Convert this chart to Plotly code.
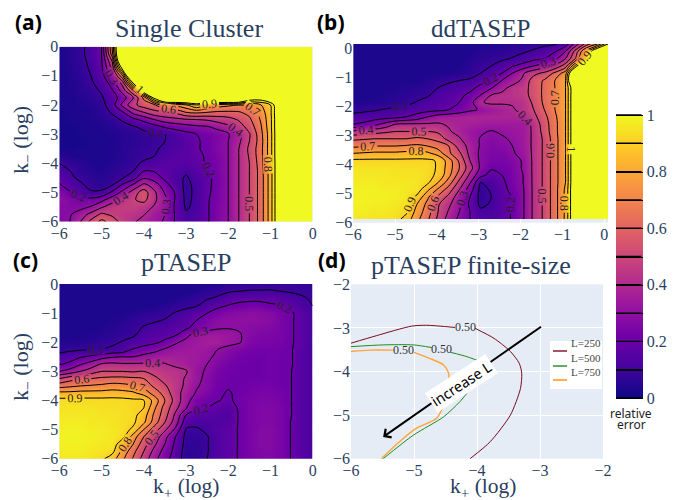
import plotly.graph_objects as go

W, H_PX = 683, 500
H = 1.5      # above the colour scale: drawn as saturated yellow
T = [1.2, H, H, H]

k_plus = [-6 + 0.25 * i for i in range(25)]
k_minus = [-0.25 * i for i in range(25)]

z_single = [
    [.03,.05,.08,.13,.2,.7] + [H]*19,
    [.03,.05,.08,.13,.2,.65] + [H]*19,
    [.03,.05,.075,.12,.19,.5,1.4] + [H]*18,
    [.03,.05,.07,.11,.18,.42,1.05] + [H]*18,
    [.03,.04,.065,.1,.16,.33,.68] + [H]*18,
    [.03,.04,.06,.09,.13,.24,.44,1.0] + [H]*17,
    [.03,.04,.05,.075,.11,.19,.34,.6,1.15] + [H]*16,
    [.03,.035,.045,.06,.09,.15,.25,.4,.62,1.05,1.4] + [H]*7 + [1.15,1.1,1.2] + [H]*4,
    [.03,.03,.04,.05,.07,.15,.33,.47,.55,.58,.72,.72,.78,.9,.8,.75,.72,.7,.72,.78,.9] + T,
    [.02,.03,.03,.04,.06,.11,.19,.33,.4,.47,.49,.52,.6,.62,.6,.58,.58,.59,.63,.73,.88] + T,
    [.02,.03,.03,.04,.05,.07,.11,.17,.23,.3,.35,.37,.39,.4,.41,.44,.46,.51,.58,.7,.87] + T,
    [.02,.02,.03,.03,.04,.05,.07,.09,.12,.16,.21,.24,.26,.28,.29,.33,.38,.45,.54,.67,.87] + T,
    [.02,.02,.03,.03,.03,.04,.05,.06,.08,.09,.1,.13,.17,.2,.23,.25,.29,.37,.49,.65,.86] + T,
    [.02,.02,.02,.03,.03,.04,.05,.06,.07,.085,.1,.12,.16,.19,.22,.26,.3,.38,.5,.64,.86] + T,
    [.03,.02,.03,.03,.03,.04,.05,.07,.08,.09,.115,.14,.16,.19,.22,.26,.3,.4,.52,.65,.86] + T,
    [.05,.04,.03,.03,.03,.04,.05,.07,.085,.1,.13,.15,.16,.18,.21,.25,.3,.4,.51,.65,.86] + T,
    [.1,.08,.06,.04,.03,.05,.06,.085,.11,.14,.16,.16,.15,.17,.21,.24,.3,.4,.5,.64,.85] + T,
    [.12,.1,.07,.05,.04,.06,.08,.095,.195,.19,.16,.14,.115,.15,.19,.24,.3,.4,.5,.63,.85] + T,
    [.17,.115,.085,.065,.05,.07,.095,.16,.29,.25,.18,.13,.09,.13,.18,.23,.3,.4,.5,.63,.85] + T,
    [.21,.16,.115,.075,.06,.1,.22,.32,.43,.36,.24,.15,.08,.12,.18,.23,.3,.4,.5,.63,.85] + T,
    [.27,.21,.15,.11,.12,.22,.33,.45,.55,.42,.29,.19,.075,.12,.18,.24,.3,.4,.5,.63,.85] + T,
    [.3,.26,.24,.23,.27,.36,.43,.49,.53,.42,.33,.19,.08,.12,.19,.24,.3,.4,.5,.63,.85] + T,
    [.28,.27,.27,.31,.39,.45,.47,.47,.44,.39,.32,.18,.09,.12,.19,.25,.3,.4,.5,.63,.85] + T,
    [.27,.29,.35,.43,.52,.48,.45,.43,.405,.35,.3,.19,.11,.13,.19,.25,.3,.4,.5,.63,.85] + T,
    [.26,.3,.4,.53,.63,.56,.46,.41,.37,.33,.29,.19,.12,.14,.19,.25,.3,.4,.5,.63,.85] + T,
]

z_dd = [
    [.03]*13 + [.04,.045,.05,.055,.07,.08,.09,.15,.35,.55,.7,1.0],
    [.03]*11 + [.04,.05,.05,.06,.075,.09,.11,.14,.19,.3,.55,.85,1.2,H],
    [.03]*11 + [.05,.06,.08,.085,.105,.13,.17,.2,.27,.4,.62,.95,H,H],
    [.03]*11 + [.06,.085,.1,.14,.19,.24,.3,.35,.42,.55,.95,H,H,H],
    [.03]*9 + [.04,.05,.07,.1,.15,.2,.3,.39,.47,.52,.62,.75,1.4,H,H,H],
    [.03]*7 + [.05,.07,.085,.1,.11,.16,.21,.3,.35,.42,.55,.61,.7,.8,H,H,H,H],
    [.03,.03,.03,.035,.04,.05,.06,.07,.1,.125,.14,.17,.23,.29,.37,.43,.46,.54,.62,.7,.8] + T,
    [.03,.03,.035,.04,.05,.06,.075,.09,.13,.15,.18,.22,.3,.4,.42,.43,.46,.54,.62,.7,.8] + T,
    [.035,.04,.045,.05,.06,.075,.105,.13,.15,.17,.2,.26,.39,.42,.41,.41,.43,.52,.62,.7,.8] + T,
    [.07,.08,.09,.105,.12,.135,.15,.16,.17,.2,.24,.28,.31,.34,.37,.39,.43,.5,.6,.7,.8] + T,
    [.13,.14,.15,.16,.17,.2,.24,.3,.35,.36,.37,.38,.38,.38,.38,.38,.39,.47,.57,.68,.8] + T,
    [.2,.22,.27,.33,.4,.41,.41,.41,.41,.39,.37,.36,.35,.34,.34,.34,.34,.43,.55,.67,.8] + T,
    [.42,.44,.46,.48,.5,.5,.5,.5,.48,.41,.37,.33,.31,.295,.31,.33,.34,.42,.54,.67,.8] + T,
    [.58,.59,.6,.6,.6,.6,.62,.6,.57,.46,.41,.34,.295,.27,.29,.31,.34,.42,.52,.66,.8] + T,
    [.68,.69,.7,.7,.7,.71,.72,.7,.65,.6,.45,.37,.29,.26,.27,.3,.34,.42,.52,.66,.8] + T,
    [.8,.81,.82,.82,.82,.83,.84,.82,.76,.62,.52,.37,.28,.25,.25,.29,.33,.42,.52,.66,.8] + T,
    [.92,.92,.92,.92,.92,.92,.92,.92,.89,.75,.58,.4,.28,.24,.24,.26,.31,.42,.52,.66,.8] + T,
    [.95,.95,.95,.95,.94,.94,.94,.93,.89,.75,.6,.44,.28,.21,.22,.25,.31,.42,.52,.66,.8] + T,
    [.96,.96,.96,.96,.95,.95,.95,.93,.88,.73,.55,.38,.23,.17,.2,.24,.3,.42,.52,.66,.8] + T,
    [.97,.97,.97,.96,.96,.96,.95,.92,.8,.65,.47,.31,.1,.13,.18,.24,.3,.42,.52,.66,.8] + T,
    [.98,.98,.98,.97,.97,.96,.95,.82,.68,.55,.4,.25,.07,.11,.17,.225,.29,.42,.52,.66,.82] + T,
    [.98,.98,.98,.98,.97,.96,.88,.72,.58,.47,.34,.2,.07,.1,.16,.205,.29,.42,.52,.66,.82] + T,
    [.98,.98,.97,.97,.96,.94,.8,.67,.51,.42,.32,.18,.08,.11,.16,.21,.29,.42,.52,.66,.82] + T,
    [.97,.97,.96,.96,.95,.92,.76,.65,.5,.39,.3,.2,.12,.12,.16,.21,.29,.42,.52,.66,.82] + T,
    [.96,.96,.95,.95,.94,.86,.73,.62,.48,.36,.28,.2,.14,.13,.16,.21,.29,.42,.52,.66,.82] + T,
]

z_p = [
    [.03]*10 + [.04]*6 + [.06,.065,.07,.075,.08,.08,.08,.075,.07],
    [.03]*13 + [.04,.06,.08,.09,.1,.105,.105,.105,.1,.09,.085,.08],
    [.03]*11 + [.04,.06,.08,.095,.11,.16,.175,.18,.18,.18,.16,.14,.11,.09],
    [.03]*9 + [.04,.05,.07,.08,.095,.14,.18,.205,.22,.23,.23,.21,.205,.175,.13,.1],
    [.03]*6 + [.035,.045,.06,.07,.08,.105,.13,.165,.2,.24,.27,.28,.29,.28,.27,.24,.21,.16,.12],
    [.03]*5 + [.04,.05,.07,.085,.09,.105,.13,.16,.2,.25,.28,.29,.295,.295,.29,.28,.24,.21,.16,.12],
    [.03,.03,.03,.03,.04,.05,.06,.08,.105,.125,.14,.16,.18,.24,.27,.29,.295,.29,.28,.27,.26,.24,.21,.16,.12],
    [.03,.03,.035,.04,.05,.06,.08,.09,.13,.15,.165,.19,.28,.33,.34,.34,.33,.31,.27,.25,.25,.24,.21,.16,.12],
    [.04,.045,.05,.06,.07,.085,.105,.13,.16,.18,.22,.29,.32,.34,.36,.36,.33,.31,.26,.24,.24,.23,.21,.16,.12],
    [.07,.08,.09,.095,.1,.115,.13,.21,.24,.27,.31,.33,.34,.34,.33,.3,.27,.25,.23,.22,.22,.22,.205,.15,.12],
    [.13,.16,.19,.22,.26,.29,.3,.3,.33,.35,.36,.36,.35,.34,.32,.28,.25,.23,.21,.21,.22,.21,.205,.15,.12],
    [.19,.22,.29,.34,.41,.42,.41,.41,.41,.41,.405,.38,.36,.33,.3,.26,.23,.21,.21,.21,.22,.21,.205,.15,.12],
    [.3,.34,.4,.45,.5,.5,.5,.49,.5,.47,.44,.43,.41,.32,.29,.24,.215,.21,.21,.21,.22,.21,.2,.15,.12],
    [.5,.56,.59,.6,.62,.63,.63,.62,.6,.52,.47,.44,.39,.33,.27,.23,.21,.205,.21,.21,.22,.21,.2,.15,.12],
    [.66,.68,.7,.71,.72,.74,.73,.71,.67,.58,.51,.45,.38,.31,.27,.22,.205,.21,.22,.23,.23,.21,.2,.15,.12],
    [.83,.83,.84,.84,.84,.85,.84,.82,.76,.66,.56,.44,.36,.29,.25,.21,.195,.21,.23,.24,.24,.23,.2,.15,.12],
    [.93,.93,.93,.93,.93,.93,.93,.92,.905,.76,.6,.46,.34,.24,.22,.205,.185,.22,.24,.25,.25,.23,.2,.15,.12],
    [.95,.95,.95,.95,.94,.94,.94,.92,.9,.72,.56,.43,.31,.22,.2,.17,.15,.21,.24,.26,.26,.24,.2,.15,.12],
    [.96,.96,.96,.96,.95,.95,.94,.93,.85,.68,.54,.38,.2,.16,.155,.15,.14,.205,.24,.26,.26,.24,.2,.15,.12],
    [.97,.97,.97,.96,.96,.95,.94,.92,.82,.65,.5,.35,.14,.12,.13,.14,.15,.205,.24,.26,.26,.24,.195,.15,.12],
    [.98,.98,.98,.97,.97,.96,.94,.88,.7,.55,.42,.28,.09,.09,.115,.15,.17,.205,.24,.27,.27,.24,.195,.15,.12],
    [.98,.98,.98,.98,.97,.96,.93,.75,.6,.47,.33,.2,.075,.07,.095,.14,.17,.205,.24,.27,.27,.24,.195,.15,.12],
    [.98,.98,.98,.97,.96,.96,.83,.7,.54,.42,.3,.18,.07,.07,.095,.14,.17,.205,.24,.27,.27,.24,.195,.15,.12],
    [.97,.97,.97,.96,.95,.93,.77,.63,.5,.37,.26,.17,.06,.065,.095,.14,.17,.205,.24,.26,.26,.24,.195,.15,.12],
    [.96,.96,.96,.95,.92,.85,.72,.59,.46,.33,.24,.15,.06,.07,.1,.14,.17,.205,.24,.26,.26,.24,.195,.15,.12],
]

# panel (d): the relative-error 0.5 level for three lattice sizes (None = gap for the label)
L250_x = [-6.0,-5.6,-5.04,-4.8,-4.35,None,-4.03,-3.73,-3.47,-3.33,-3.29,-3.31,-3.47,-3.79,-4.11]
L250_y = [-3.35,-3.18,-2.96,-2.94,-2.99,None,-3.01,-3.24,-3.54,-3.81,-4.04,-4.39,-5.0,-5.61,-6.0]
L500_x = [-6.0,-5.49,-5.01,-4.72,None,-4.42,-4.16,-3.97,-3.81,-4.05,-4.27,-4.53,-5.01,-5.49]
L500_y = [-3.43,-3.39,-3.39,-3.45,None,-3.56,-3.66,-3.77,-4.04,-4.31,-4.69,-5.04,-5.46,-6.0]
L750_x = [-6.0,-5.71,-5.32,None,-5.0,-4.75,-4.53,-4.45,-4.45,-4.51,-4.64,-4.96,-5.23,-5.52]
L750_y = [-3.54,-3.51,-3.51,None,-3.56,-3.7,-3.85,-4.04,-4.23,-4.69,-5.07,-5.3,-5.61,-6.0]
L_names = ["L=250", "L=500", "L=750"]
L_colors = ["#7a0c1e", "#1f8a1f", "#ffa33a"]
L_widths = [1, 1, 1.4]
label_x = [-4.19, -4.56, -5.16]
label_y = [-2.99, -3.48, -3.51]

ticks_full = [-6, -5, -4, -3, -2, -1, 0]
ticks_d = [-6, -5, -4, -3, -2]
cbar_ticks = [0, .2, .4, .6, .8, 1]
cbar_levels = [0, .1, .2, .3, .4, .5, .6, .7, .8, .9, 1]

INK = "#2a3f5f"
SERIF = "Liberation Serif"
SANS = "Noto Sans"


def contour(z, xa, ya, x=k_plus, y=k_minus, scale=False):
    return go.Contour(
        x=x, y=y, z=z, xaxis=xa, yaxis=ya, zmin=0, zmax=1, zauto=False,
        colorscale="Plasma", showscale=scale,
        contours=dict(start=0, end=1, size=0.1, coloring="heatmap", showlabels=True,
                      labelfont=dict(size=12, color="#222", family=SERIF)),
        line=dict(color="black", width=1, smoothing=1),
        colorbar=dict(x=616 / W, xanchor="left", thicknessmode="pixels", thickness=27,
                      lenmode="pixels", len=283, y=1 - 256.5 / H_PX, yanchor="middle",
                      tickmode="array", tickvals=cbar_ticks, ticktext=["0", "0.2", "0.4", "0.6", "0.8", "1"],
                      tickfont=dict(size=16, family=SERIF, color=INK), outlinewidth=0, ticks="",
                      xpad=0, ypad=0),
    )


fig = go.Figure()
fig.add_trace(contour(z_single, "x", "y", scale=True))
fig.add_trace(contour(z_dd, "x2", "y2",
                      x=[v * 1.015 + 0.09 for v in k_plus],
                      y=[v * 1.0017 + 0.14 for v in k_minus]))
fig.add_trace(contour(z_p, "x3", "y3"))
for xs, ys, n, c, w in zip([L250_x, L500_x, L750_x], [L250_y, L500_y, L750_y], L_names, L_colors, L_widths):
    fig.add_trace(go.Scatter(x=xs, y=ys, mode="lines", name=n, xaxis="x4", yaxis="y4",
                             line=dict(color=c, width=w, shape="spline", smoothing=0.7),
                             showlegend=False))


def xax(px0, px1, rng, ticks, anchor):
    return dict(domain=[px0 / W, px1 / W], range=rng, tickmode="array", tickvals=ticks,
                ticktext=["\u2212%d" % -t if t else "0" for t in ticks], anchor=anchor,
                tickfont=dict(size=16, family=SERIF, color=INK), gridcolor="white", zeroline=False,
                showline=False, ticks="", automargin=False)


def yax(py0, py1, rng, ticks, anchor):
    return dict(domain=[1 - py1 / H_PX, 1 - py0 / H_PX], range=rng, tickmode="array", tickvals=ticks,
                ticktext=["\u2212%d" % -t if t else "0" for t in ticks], anchor=anchor,
                tickfont=dict(size=16, family=SERIF, color=INK), gridcolor="white", zeroline=False,
                showline=False, ticks="", automargin=False)


annotations = []


def text(px, py, s, size, family=SERIF, color=INK, bold=False, angle=0):
    annotations.append(dict(xref="paper", yref="paper", x=px / W, y=1 - py / H_PX, text=("<b>%s</b>" % s) if bold else s,
                            showarrow=False, xanchor="center", yanchor="middle", textangle=angle,
                            font=dict(size=size, family=family, color=color)))


text(189, 28, "Single Cluster", 26)
text(480, 28, "ddTASEP", 25)
text(186, 262, "pTASEP", 26)
text(471, 265, "pTASEP finite-size", 26)
text(28, 22, "(a)", 21, SANS, "black", True)
text(331, 22, "(b)", 21, SANS, "black", True)
text(25, 260, "(c)", 21, SANS, "black", True)
text(332, 260, "(d)", 21, SANS, "black", True)
text(631, 413, "relative", 12, SANS, "#222")
text(631, 424, "error", 12, SANS, "#222")
text(22, 140, "k<sub>\u2212</sub> (log)", 22, angle=-90)
text(22, 367, "k<sub>\u2212</sub> (log)", 22, angle=-90)
text(186, 487, "k<sub>+</sub> (log)", 21.5)
text(483, 487, "k<sub>+</sub> (log)", 21.5)

# level lines across the colour bar
for lev in cbar_levels:
    annotations.append(dict(xref="paper", yref="paper", x=616 / W, y=1 - (398 - 283 * lev) / H_PX, ax=27, ay=0,
                            axref="pixel", ayref="pixel", text="", showarrow=True, arrowhead=0,
                            arrowwidth=1.4, arrowcolor="black", standoff=0, startstandoff=0))

for x, y in zip(label_x, label_y):
    annotations.append(dict(xref="x4", yref="y4", x=x, y=y, text="0.50", showarrow=False,
                            font=dict(size=12, family=SERIF, color="#333")))
annotations.append(dict(xref="x4", yref="y4", axref="x4", ayref="y4", x=-5.49, y=-5.5, ax=-2.96, ay=-2.95,
                        text="", showarrow=True, arrowhead=4, arrowwidth=2, arrowsize=1, arrowcolor="black"))
annotations.append(dict(xref="x4", yref="y4", x=-4.24, y=-4.27, text="increase L", showarrow=False, textangle=-33,
                        bgcolor="white", borderpad=1, font=dict(size=14.5, family=SANS, color="black")))

shapes = [dict(type="rect", xref="paper", yref="paper", x0=550 / W, x1=602 / W, y0=1 - 389 / H_PX, y1=1 - 341 / H_PX,
               fillcolor="white", line=dict(width=0), layer="above")]
for name, c, w, py in zip(L_names, L_colors, L_widths, [351, 366, 380]):
    shapes.append(dict(type="line", xref="paper", yref="paper", x0=553 / W, x1=567 / W, y0=1 - py / H_PX, y1=1 - py / H_PX,
                       line=dict(color=c, width=w + 0.4), layer="above"))
    annotations.append(dict(xref="paper", yref="paper", x=569 / W, y=1 - py / H_PX, text=name, showarrow=False,
                            xanchor="left", font=dict(size=11, family=SERIF, color="#444")))

fig.update_layout(
    width=W, height=H_PX, margin=dict(l=0, r=0, t=0, b=0), autosize=False,
    paper_bgcolor="white", plot_bgcolor="#E5ECF6", showlegend=False,
    xaxis=xax(59.3, 312.7, [-6, 0], ticks_full, "y"),
    yaxis=yax(46.7, 221.7, [-6, 0], ticks_full, "x"),
    xaxis2=xax(353.2, 608, [-6, 0.09], ticks_full, "y2"),
    yaxis2=yax(44, 222.7, [-6, 0.14], ticks_full, "x2"),
    xaxis3=xax(59.3, 312.7, [-6, 0], ticks_full, "y3"),
    yaxis3=yax(284, 458.7, [-6, 0], ticks_full, "x3"),
    xaxis4=xax(351, 603, [-6, -2], ticks_d, "y4"),
    yaxis4=yax(284.3, 458.7, [-6, -2], ticks_d, "x4"),
    annotations=annotations, shapes=shapes,
)

fig.write_html("out.html", config={"displayModeBar": False},
               post_script="document.body.style.margin='0';")
